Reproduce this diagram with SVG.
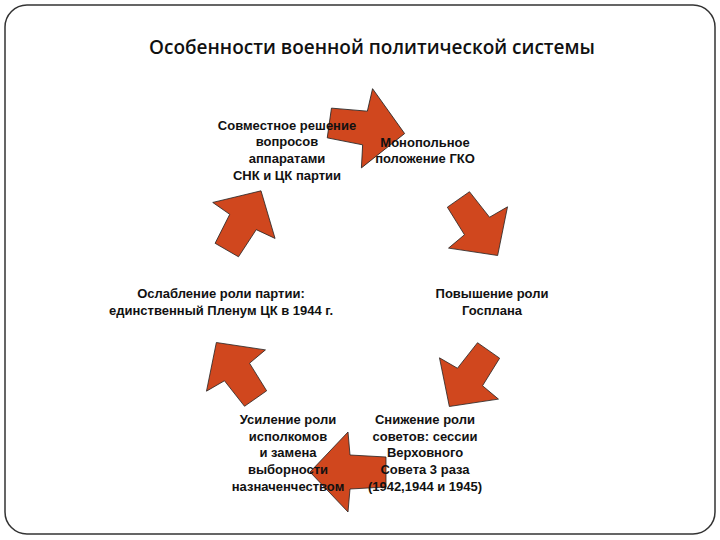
<svg xmlns="http://www.w3.org/2000/svg" width="720" height="540" viewBox="0 0 720 540">
<style>
.t{font-family:"Liberation Sans",Arial,sans-serif;font-size:13px;font-weight:bold;fill:#111;text-anchor:middle}
.a{fill:#d0471e;stroke:#222;stroke-width:0.8}
</style>
<defs><polygon id="ar" points="-36,-15 0,-17 2,-40 40,0 2,40 0,17 -36,15"/></defs>
<rect x="5" y="5" width="710" height="529" rx="22" fill="#fff" stroke="#333" stroke-width="1.5"/>
<text x="372" y="54" style="font-family:'Open Sans','Liberation Sans',sans-serif;font-size:19px;font-weight:600;fill:#111" text-anchor="middle">Особенности военной политической системы</text>
<g id="connectors">
<use href="#ar" class="a" transform="translate(365,128) rotate(8)"/>
<use href="#ar" class="a" transform="translate(477,226) rotate(55) scale(0.9)"/>
<use href="#ar" class="a" transform="translate(470,377) rotate(125) scale(0.9)"/>
<use href="#ar" class="a" transform="translate(350,472) rotate(180)"/>
<use href="#ar" class="a" transform="translate(237,372) rotate(235) scale(0.9)"/>
<use href="#ar" class="a" transform="translate(243,222) rotate(-60) scale(0.9)"/>
</g>
<g id="n1"><text class="t" x="287" y="130">Совместное решение</text><text class="t" x="287" y="146">вопросов</text><text class="t" x="287" y="163">аппаратами</text><text class="t" x="287" y="180">СНК и ЦК партии</text></g>
<g id="n2"><text class="t" x="425" y="147">Монопольное</text><text class="t" x="425" y="163">положение ГКО</text></g>
<g id="n3"><text class="t" x="492" y="298">Повышение роли</text><text class="t" x="492" y="315">Госплана</text></g>
<g id="n4"><text class="t" x="425" y="424">Снижение роли</text><text class="t" x="425" y="441">советов:  сессии</text><text class="t" x="425" y="457">Верховного</text><text class="t" x="425" y="474">Совета 3 раза</text><text class="t" x="425" y="491">(1942,1944 и 1945)</text></g>
<g id="n5"><text class="t" x="288" y="424">Усиление роли</text><text class="t" x="288" y="441">исполкомов</text><text class="t" x="288" y="457">и замена</text><text class="t" x="288" y="474">выборности</text><text class="t" x="288" y="491">назначенчеством</text></g>
<g id="n6"><text class="t" x="221" y="298">Ослабление роли партии:</text><text class="t" x="221" y="315">единственный Пленум ЦК в 1944 г.</text></g>
</svg>
